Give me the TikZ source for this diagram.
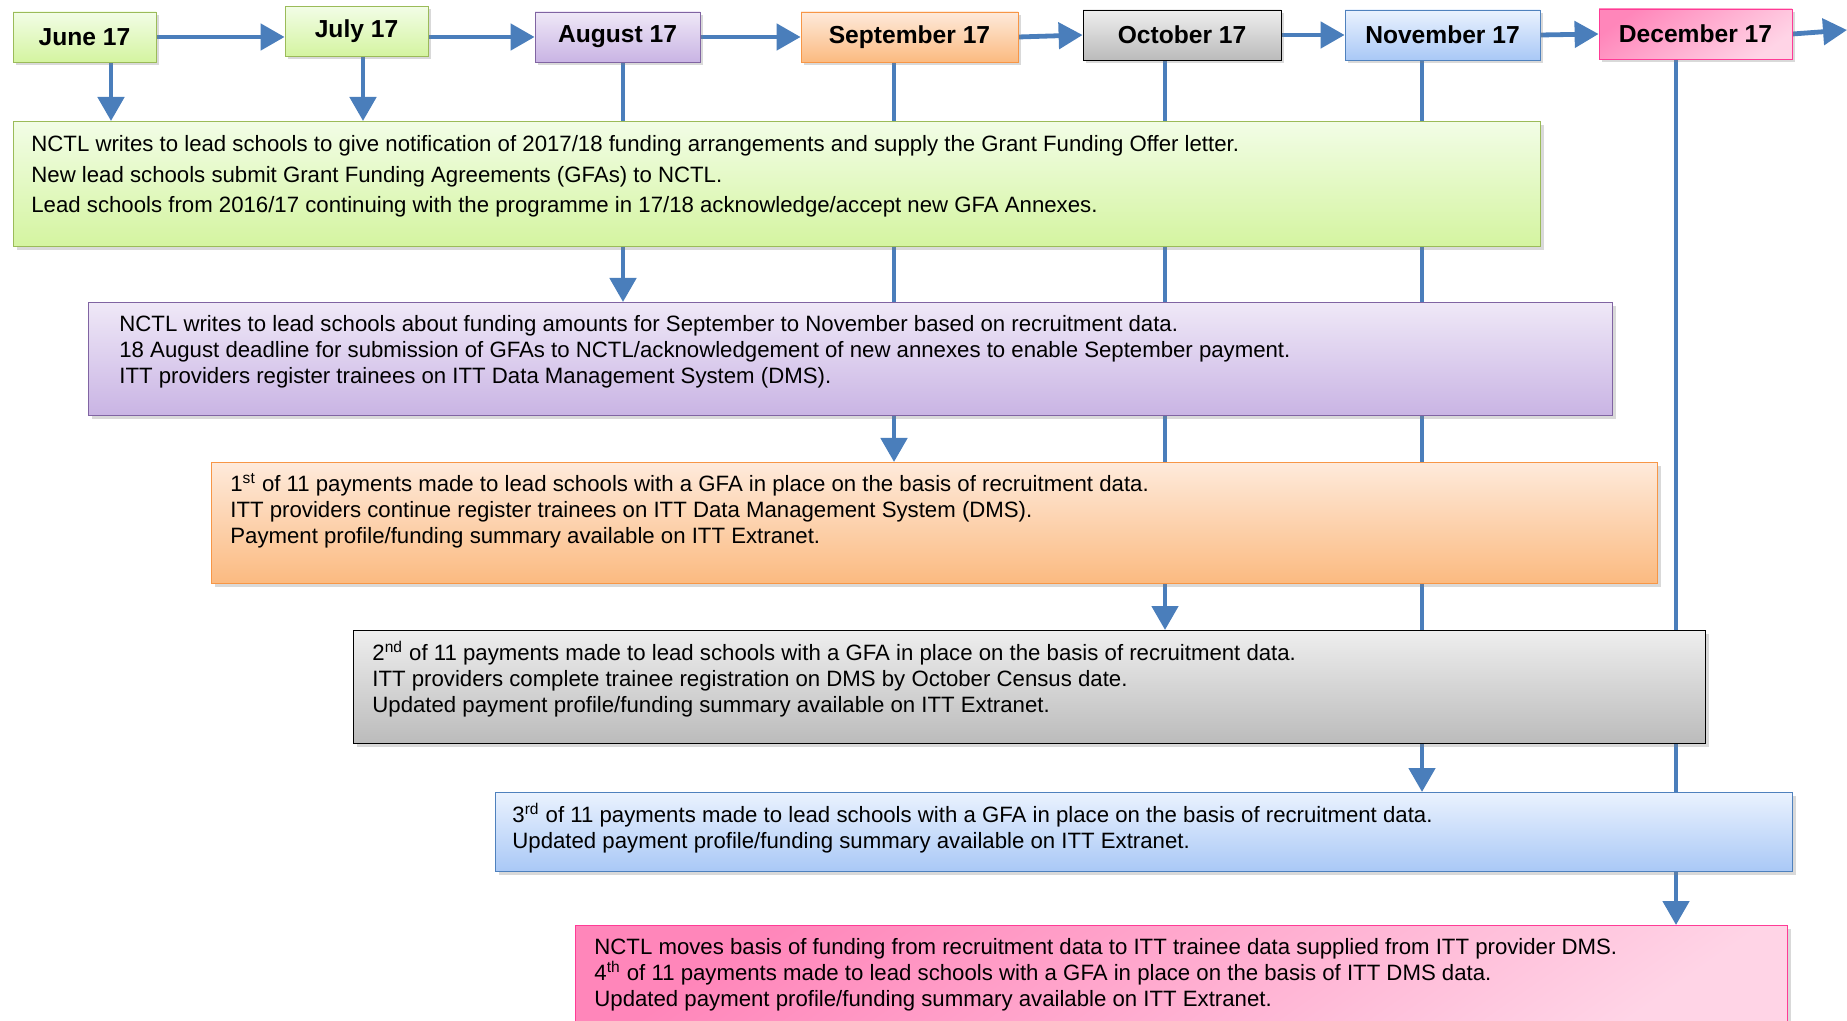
\documentclass[tikz,border=0pt]{standalone}
\usepackage{fontspec}
\setmainfont{Liberation Sans}
\usetikzlibrary{arrows.meta,shadows,backgrounds}

\definecolor{flowblue}{HTML}{4A7EBB}
\definecolor{grnline}{HTML}{9BBB59}
\definecolor{grntop}{HTML}{F2FDE6}
\definecolor{grnbot}{HTML}{D4F4A0}
\definecolor{purline}{HTML}{8064A2}
\definecolor{purtop}{HTML}{EFE8F7}
\definecolor{purbot}{HTML}{C9B4E4}
\definecolor{oraline}{HTML}{F79646}
\definecolor{oratop}{HTML}{FEEADB}
\definecolor{orabot}{HTML}{FBBA80}
\definecolor{gratop}{HTML}{EEEEEE}
\definecolor{grabot}{HTML}{BBBBBB}
\definecolor{bluline}{HTML}{4F81BD}
\definecolor{blutop}{HTML}{EAF2FE}
\definecolor{blubot}{HTML}{A9C8F6}
\definecolor{pnkline}{HTML}{FF3B96}
\definecolor{pnktop}{HTML}{FF86BA}
\definecolor{pnkbot}{HTML}{FFD4E6}

\tikzset{
  shade/.style={drop shadow={opacity=0.3,shadow xshift=1.5pt,shadow yshift=-1.5pt}},
  month/.style={draw,shade,inner sep=0pt,minimum height=25pt,font=\bfseries\fontsize{12.3}{14}\selectfont},
  panel/.style={draw,shade,line width=0.7pt,inner sep=0pt,anchor=north west},
  note/.style={anchor=north west,align=left,inner sep=0pt,font=\fontsize{11.1}{13}\selectfont},
  grn/.style={draw=grnline,top color=grntop,bottom color=grnbot},
  pur/.style={draw=purline,top color=purtop,bottom color=purbot},
  ora/.style={draw=oraline,top color=oratop,bottom color=orabot},
  gra/.style={draw=black,top color=gratop,bottom color=grabot},
  blu/.style={draw=bluline,top color=blutop,bottom color=blubot},
  pnk/.style={draw=pnkline,top color=pnktop,bottom color=pnkbot,shading angle=35},
  flow/.style={draw=flowblue,line width=2.4pt,-{Triangle[length=12pt,width=13pt]}},
}

\begin{document}
\begin{tikzpicture}[x=0.5pt,y=-0.5pt]
\useasboundingbox (0,0) rectangle (1847,1021);

% months
\node[month,grn,minimum width=71.5pt] (jun) at (84.5,37) {June 17};
\node[month,grn,minimum width=71.5pt] (jul) at (356.5,31.5) {July 17};
\node[month,pur,minimum width=82.5pt] (aug) at (617.5,37) {August 17};
\node[month,ora,minimum width=108.5pt] (sep) at (909.5,37) {September 17};
\node[month,gra,minimum width=99pt] (oct) at (1182,35) {October 17};
\node[month,blu,minimum width=97.5pt] (nov) at (1442.5,35) {November 17};
\node[month,pnk,minimum width=96.5pt] (dec) at (1695.5,34) {December 17};
\coordinate (next) at (1847,30);

% panels
\node[panel,grn,minimum width=763.5pt,minimum height=62.5pt] (pjun) at (13,121) {};
\node[panel,pur,minimum width=762pt,minimum height=56.5pt] (paug) at (88,302) {};
\node[panel,ora,minimum width=723pt,minimum height=60.5pt] (psep) at (211,462) {};
\node[panel,gra,minimum width=676pt,minimum height=56.5pt] (poct) at (353,630) {};
\node[panel,blu,minimum width=648.5pt,minimum height=39.5pt] (pnov) at (495,792) {};
\node[panel,pnk,minimum width=606pt,minimum height=60pt] (pdec) at (575,925) {};

\node[note,font=\fontsize{11.1}{15.3}\selectfont] (tjun) at (31,135) {NCTL writes to lead schools to give notification of 2017/18 funding arrangements and supply the Grant Funding Offer letter.\\
New lead schools submit Grant Funding Agreements (GFAs) to NCTL.\\
Lead schools from 2016/17 continuing with the programme in 17/18 acknowledge/accept new GFA Annexes.};
\node[note] (taug) at (119,315) {NCTL writes to lead schools about funding amounts for September to November based on recruitment data.\\
18 August deadline for submission of GFAs to NCTL/acknowledgement of new annexes to enable September payment.\\
ITT providers register trainees on ITT Data Management System (DMS).};
\node[note] (tsep) at (230,473) {1\textsuperscript{st} of 11 payments made to lead schools with a GFA in place on the basis of recruitment data.\\
ITT providers continue register trainees on ITT Data Management System (DMS).\\
Payment profile/funding summary available on ITT Extranet.};
\node[note] (toct) at (372,641) {2\textsuperscript{nd} of 11 payments made to lead schools with a GFA in place on the basis of recruitment data.\\
ITT providers complete trainee registration on DMS by October Census date.\\
Updated payment profile/funding summary available on ITT Extranet.};
\node[note] (tnov) at (512,803) {3\textsuperscript{rd} of 11 payments made to lead schools with a GFA in place on the basis of recruitment data.\\
Updated payment profile/funding summary available on ITT Extranet.};
\node[note] (tdec) at (594,938) {NCTL moves basis of funding from recruitment data to ITT trainee data supplied from ITT provider DMS.\\
4\textsuperscript{th} of 11 payments made to lead schools with a GFA in place on the basis of ITT DMS data.\\
Updated payment profile/funding summary available on ITT Extranet.};

% connectors
\begin{scope}[on background layer]
\draw[flow] (jun.east) -- (jun.east -| jul.west);
\draw[flow] (jul.east |- aug.west) -- (aug.west);
\draw[flow] (aug.east) -- (sep.west);
\draw[flow] (sep.east) -- (oct.west);
\draw[flow] (oct.east) -- (nov.west);
\draw[flow] (nov.east) -- (dec.west);
\draw[flow] (dec.east) -- (next);
\draw[flow] ([xshift=13.25pt]jun.south) -- ([xshift=13.25pt]jun.south |- pjun.north);
\draw[flow] ([xshift=3.25pt]jul.south) -- ([xshift=3.25pt]jul.south |- pjun.north);
\draw[flow] ([xshift=2.75pt]aug.south) -- ([xshift=2.75pt]aug.south |- paug.north);
\draw[flow] ([xshift=-7.75pt]sep.south) -- ([xshift=-7.75pt]sep.south |- psep.north);
\draw[flow] ([xshift=-8.5pt]oct.south) -- ([xshift=-8.5pt]oct.south |- poct.north);
\draw[flow] ([xshift=-10.25pt]nov.south) -- ([xshift=-10.25pt]nov.south |- pnov.north);
\draw[flow] ([xshift=-9.75pt]dec.south) -- ([xshift=-9.75pt]dec.south |- pdec.north);
\end{scope}
\end{tikzpicture}
\end{document}
